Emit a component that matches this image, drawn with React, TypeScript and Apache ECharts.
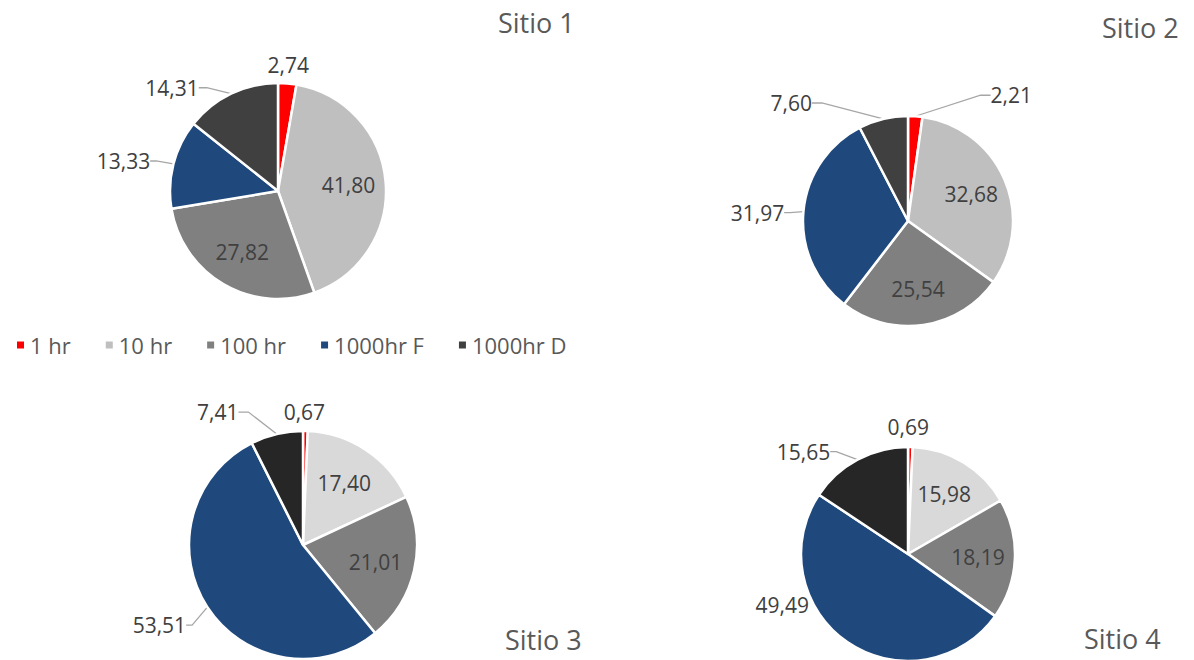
import React, { useEffect, useRef } from "react";
import * as echarts from "echarts";

// Fuel-moisture classes and their share (%) of the fuel load at each site
const categories = ["1 hr", "10 hr", "100 hr", "1000hr F", "1000hr D"];
const sitio1 = [2.74, 41.8, 27.82, 13.33, 14.31];
const sitio2 = [2.21, 32.68, 25.54, 31.97, 7.6];
const sitio3 = [0.67, 17.4, 21.01, 53.51, 7.41];
const sitio4 = [0.69, 15.98, 18.19, 49.49, 15.65];
const siteTitles = ["Sitio 1", "Sitio 2", "Sitio 3", "Sitio 4"];

const topColors = ["#ff0000", "#bfbfbf", "#808080", "#1f497d", "#404040"];
const bottomColors = ["#ff0000", "#d9d9d9", "#7f7f7f", "#1f497d", "#262626"];

const FONT = "'Open Sans', 'Noto Sans', sans-serif";
const LABEL_COLOR = "#404040";
const LINE_COLOR = "#a6a6a6";
// inside labels sit a bit further out than the ring's mid radius
const INSIDE_PUSH = 0.24;

type Callout = {
  // label centre offset from the slice's outer mid-point
  off: [number, number];
  // guide-line stub next to the label (0 = no visible line)
  stub: number;
};

type PieCfg = {
  values: number[];
  colors: string[];
  center: [number, number];
  radius: number;
  // null = label drawn inside the slice
  callouts: (Callout | null)[];
  title: { left: number; top: number };
};

const pies: PieCfg[] = [
  {
    values: sitio1,
    colors: topColors,
    center: [278, 191],
    radius: 108,
    callouts: [
      { off: [1, -18], stub: 0 },
      null,
      null,
      { off: [-50, -3], stub: 6 },
      { off: [-59, -6], stub: 8 },
    ],
    title: { left: 498, top: 9 },
  },
  {
    values: sitio2,
    colors: topColors,
    center: [908, 221],
    radius: 105,
    callouts: [
      { off: [96, -21], stub: 10 },
      null,
      null,
      { off: [-46, 1], stub: 6 },
      { off: [-92, -16], stub: 10 },
    ],
    title: { left: 1102, top: 14 },
  },
  {
    values: sitio3,
    colors: bottomColors,
    center: [303, 545],
    radius: 114,
    callouts: [
      { off: [-1, -19], stub: 0 },
      null,
      null,
      { off: [-48, 18], stub: 6 },
      { off: [-59, -22], stub: 10 },
    ],
    title: { left: 505, top: 626 },
  },
  {
    values: sitio4,
    colors: bottomColors,
    center: [908, 554],
    radius: 107,
    callouts: [
      { off: [-2, -20], stub: 0 },
      null,
      null,
      { off: [-65, -37], stub: 0 },
      { off: [-54, -8], stub: 6 },
    ],
    title: { left: 1084, top: 625 },
  },
];

const fmt = (v: number) => v.toFixed(2).replace(".", ",");

export default function App() {
  const ref = useRef<HTMLDivElement>(null);

  useEffect(() => {
    if (!ref.current) return;
    const chart = echarts.init(ref.current, undefined, { renderer: "svg" });

    const series = pies.map((p, si) => ({
      type: "pie" as const,
      name: siteTitles[si],
      center: p.center,
      radius: p.radius,
      startAngle: 90,
      clockwise: true,
      avoidLabelOverlap: false,
      itemStyle: { borderColor: "#ffffff", borderWidth: 2.5 },
      label: {
        fontFamily: FONT,
        fontSize: 21,
        color: LABEL_COLOR,
        formatter: (params: any) => fmt(params.value),
      },
      labelLine: {
        length: 10,
        length2: 8,
        lineStyle: { color: LINE_COLOR, width: 1.3 },
      },
      labelLayout: (params: any) => {
        const c = p.callouts[params.dataIndex];
        const r = params.labelRect;
        const lx = r.x + r.width / 2;
        const ly = r.y + r.height / 2;
        if (!c) {
          return {
            dx: (lx - p.center[0]) * INSIDE_PUSH,
            dy: (ly - p.center[1]) * INSIDE_PUSH,
          };
        }
        const pts = params.labelLinePoints;
        if (!pts) return {};
        return {
          x: pts[0][0] + c.off[0],
          y: pts[0][1] + c.off[1],
          align: "center",
          verticalAlign: "middle",
        };
      },
      emphasis: { disabled: true },
      data: p.values.map((v, i) => {
        const c = p.callouts[i];
        return {
          name: categories[i],
          value: v,
          itemStyle: { color: p.colors[i] },
          label: c ? { position: "outside" } : { position: "inside" },
          labelLine: c
            ? {
                show: true,
                length2: c.stub,
                lineStyle: {
                  color: LINE_COLOR,
                  width: 1.3,
                  opacity: c.stub > 0 ? 1 : 0,
                },
              }
            : { show: false },
        };
      }),
    }));

    chart.setOption({
      animation: false,
      backgroundColor: "#ffffff",
      color: topColors,
      title: pies.map((p, i) => ({
        text: siteTitles[i],
        left: p.title.left,
        top: p.title.top,
        padding: 0,
        textStyle: {
          fontFamily: FONT,
          fontSize: 27,
          lineHeight: 27,
          fontWeight: "normal",
          color: "#595959",
        },
      })),
      legend: {
        data: categories,
        left: 10,
        top: 329,
        icon: "rect",
        itemWidth: 9,
        itemHeight: 9,
        itemGap: 33,
        textStyle: { fontFamily: FONT, fontSize: 22, color: "#595959" },
        selectedMode: false,
      },
      series,
    });

    return () => chart.dispose();
  }, []);

  return (
    <div
      ref={ref}
      style={{ position: "fixed", left: 0, top: 0, width: 1194, height: 660 }}
    />
  );
}
